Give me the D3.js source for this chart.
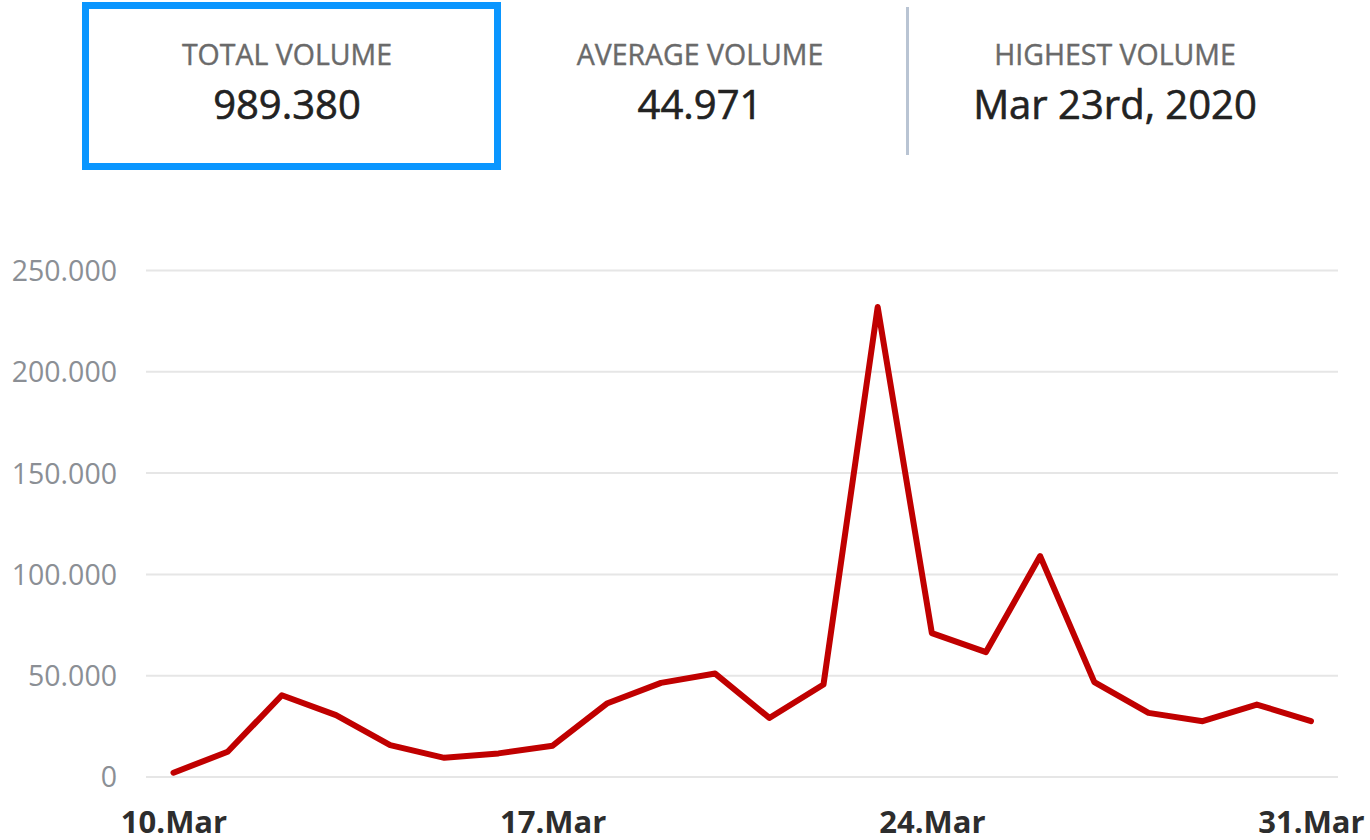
<!DOCTYPE html>
<html>
<head>
<meta charset="utf-8">
<script src="https://cdn.jsdelivr.net/npm/d3@7"></script>
<style>
  html, body { margin: 0; padding: 0; background: #fff; }
  svg { display: block; font-family: "Open Sans", "Noto Sans", sans-serif; }
</style>
</head>
<body>
<svg id="chart" width="1370" height="840"></svg>
<script>
// Daily volume, 10–31 March 2020
const dates = ["2020-03-10","2020-03-11","2020-03-12","2020-03-13","2020-03-14","2020-03-15",
  "2020-03-16","2020-03-17","2020-03-18","2020-03-19","2020-03-20","2020-03-21","2020-03-22",
  "2020-03-23","2020-03-24","2020-03-25","2020-03-26","2020-03-27","2020-03-28","2020-03-29",
  "2020-03-30","2020-03-31"];
const volumes = [2110, 12450, 40350, 30550, 15750, 9450, 11650, 15450, 36250, 46450, 51050,
  29150, 45650, 231950, 71050, 61650, 109050, 46850, 31650, 27550, 35750, 27570];
const yTicks = [0, 50000, 100000, 150000, 200000, 250000];
const xTicks = ["2020-03-10", "2020-03-17", "2020-03-24", "2020-03-31"];
const statLabels = ["TOTAL VOLUME", "AVERAGE VOLUME", "HIGHEST VOLUME"];

const parse = d3.utcParse("%Y-%m-%d");
const data = dates.map((d, i) => ({ date: parse(d), value: volumes[i] }));

// German-style number grouping (dot as thousands separator)
const de = d3.formatLocale({ decimal: ",", thousands: ".", grouping: [3], currency: ["", "€"] });
const fmtNum = de.format(",d");

const svg = d3.select("#chart");

// ---- summary stats ----
const total = d3.sum(volumes);
const avg = Math.floor(total / volumes.length);
const peak = data[d3.maxIndex(data, d => d.value)];
const day = peak.date.getUTCDate();
const suffix = (day % 10 === 1 && day !== 11) ? "st" : (day % 10 === 2 && day !== 12) ? "nd" :
  (day % 10 === 3 && day !== 13) ? "rd" : "th";
const peakText = d3.utcFormat("%b ")(peak.date) + day + suffix + d3.utcFormat(", %Y")(peak.date);
const statValues = [fmtNum(total), fmtNum(avg), peakText];
const statCenters = [287, 700, 1115];

const header = svg.append("g").attr("class", "stats");
header.append("rect")
  .attr("x", 85.5).attr("y", 5.5).attr("width", 412).attr("height", 161)
  .attr("fill", "none").attr("stroke", "#0a96ff").attr("stroke-width", 7);
header.append("line")
  .attr("x1", 907.5).attr("x2", 907.5).attr("y1", 7).attr("y2", 155)
  .attr("stroke", "#b9c4d3").attr("stroke-width", 3);

statLabels.forEach((lab, i) => {
  header.append("text")
    .attr("x", statCenters[i]).attr("y", 65)
    .attr("text-anchor", "middle")
    .attr("font-size", 28.5).attr("fill", "#6a6a6a")
    .attr("stroke", "#6a6a6a").attr("stroke-width", 0.4)
    .text(lab);
  header.append("text")
    .attr("x", statCenters[i]).attr("y", 119)
    .attr("text-anchor", "middle")
    .attr("font-size", 40).attr("fill", "#222")
    .attr("stroke", "#222").attr("stroke-width", 0.6)
    .text(statValues[i]);
});

// ---- line chart ----
const x = d3.scaleUtc()
  .domain([parse(dates[0]), parse(dates[dates.length - 1])])
  .range([173.5, 1311]);
const y = d3.scaleLinear().domain([0, 250000]).range([777, 270.5]);

// horizontal grid
const grid = svg.append("g").attr("class", "grid");
grid.selectAll("line").data(yTicks).join("line")
  .attr("x1", 146).attr("x2", 1338)
  .attr("y1", d => y(d)).attr("y2", d => y(d))
  .attr("stroke", "#e6e6e6").attr("stroke-width", 2);

// y axis labels
const yAxis = svg.append("g").attr("transform", "translate(117,0)")
  .call(d3.axisLeft(y).tickValues(yTicks).tickSize(0).tickPadding(0)
    .tickFormat(d => d === 0 ? "0" : fmtNum(d)));
yAxis.select(".domain").remove();
yAxis.selectAll("text")
  .attr("font-family", "'Open Sans', sans-serif")
  .attr("font-size", 28.5).attr("fill", "#8b8f95")
  .attr("dy", "0.35em");

// x axis labels
const xAxis = svg.append("g").attr("transform", "translate(0,833)")
  .call(d3.axisBottom(x).tickValues(xTicks.map(parse)).tickSize(0).tickPadding(0)
    .tickFormat(d3.utcFormat("%-d.%b")));
xAxis.select(".domain").remove();
xAxis.selectAll("text")
  .attr("font-family", "'Open Sans', sans-serif")
  .attr("font-size", 31).attr("font-weight", "bold").attr("fill", "#2d2d2d")
  .attr("dy", 0);

// volume line
const line = d3.line().x(d => x(d.date)).y(d => y(d.value));
svg.append("path")
  .datum(data)
  .attr("d", line)
  .attr("fill", "none")
  .attr("stroke", "#c00000")
  .attr("stroke-width", 6)
  .attr("stroke-linejoin", "round")
  .attr("stroke-linecap", "round");
</script>
</body>
</html>
